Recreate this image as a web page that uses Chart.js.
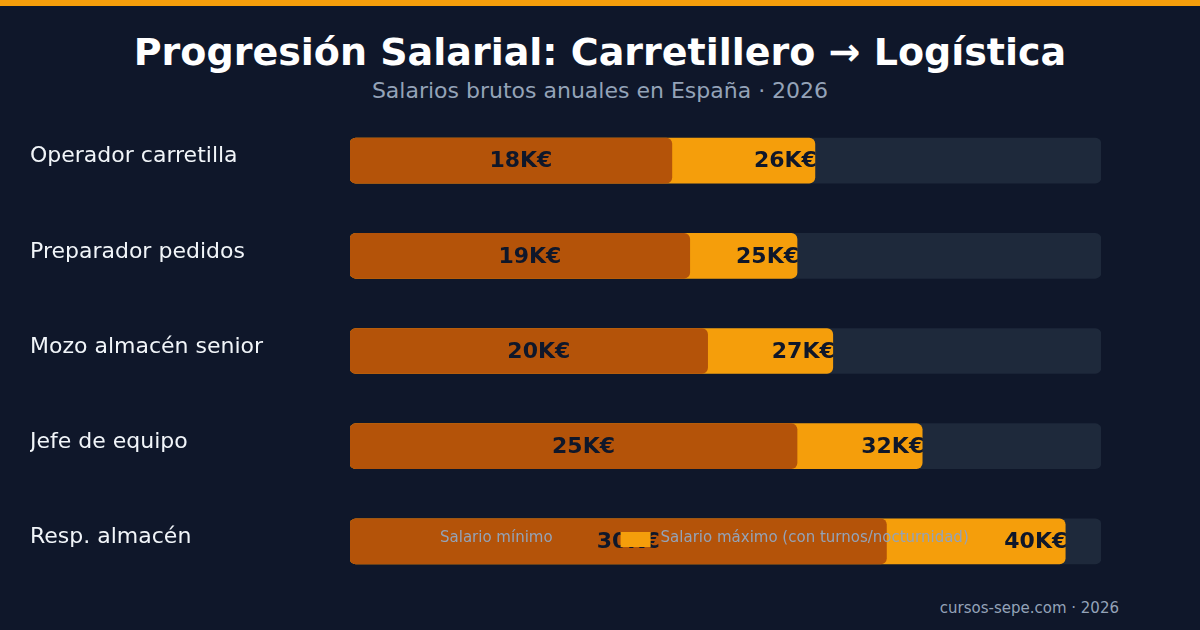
<!DOCTYPE html>
<html lang="es">
<head>
<meta charset="utf-8">
<title>Progresión Salarial</title>
<script src="https://cdn.jsdelivr.net/npm/chart.js@4/dist/chart.umd.min.js"></script>
<style>
  html, body { margin: 0; padding: 0; }
  body {
    width: 1200px; height: 630px; position: relative; overflow: hidden;
    background: #0f172a; font-family: 'DejaVu Sans', sans-serif;
  }
  .franja { position: absolute; left: 0; top: 0; width: 1200px; height: 6px; background: #f59e0b; }
  .titulo {
    position: absolute; left: 0; top: 33px; width: 1200px; text-align: center;
    font-size: 38px; line-height: 38px; font-weight: bold; color: #ffffff;
  }
  .subtitulo {
    position: absolute; left: 0; top: 80px; width: 1200px; text-align: center;
    font-size: 22px; line-height: 22px; color: #94a3b8;
  }
  .pie {
    position: absolute; right: 81px; top: 601px;
    font-size: 15px; line-height: 15px; color: #94a3b8;
  }
  #grafico { position: absolute; left: 0; top: 113px; }
</style>
</head>
<body>
<div class="franja"></div>
<div class="titulo">Progresión Salarial: Carretillero → Logística</div>
<div class="subtitulo">Salarios brutos anuales en España · 2026</div>
<canvas id="grafico" width="1200" height="476"></canvas>
<div class="pie">cursos-sepe.com · 2026</div>

<script>
// datos (miles de euros brutos al año)
const categorias = [
    'Operador carretilla',
    'Preparador pedidos',
    'Mozo almacén senior',
    'Jefe de equipo',
    'Resp. almacén'
]
const salarioMin = [18, 19, 20, 25, 30]
const salarioMax = [26, 25, 27, 32, 40]
const escalaMax = 42

const colorMin = '#b45309'
const colorMax = '#f59e0b'
const colorPista = '#1e293b'

Chart.defaults.font.family = "'DejaVu Sans', sans-serif";

// etiquetas de valor dentro de las barras
const etiquetasValor = {
    id: 'etiquetasValor',
    afterDatasetsDraw(chart) {
        const ctx = chart.ctx;
        ctx.save();
        ctx.font = 'bold 22px "DejaVu Sans"';
        ctx.fillStyle = '#0f172a';
        ctx.textBaseline = 'middle';

        const metaMin = chart.getDatasetMeta(0);
        ctx.textAlign = 'center';
        metaMin.data.forEach((bar, i) => {
            ctx.fillText(salarioMin[i] + 'K€', (bar.base + bar.x) / 2 + 10, bar.y + 1);
        });

        const metaMax = chart.getDatasetMeta(1);
        ctx.textAlign = 'right';
        metaMax.data.forEach((bar, i) => {
            ctx.fillText(salarioMax[i] + 'K€', bar.x + 2, bar.y + 1);
        });
        ctx.restore();
    }
};

// leyenda dibujada encima de las barras
const leyenda = {
    id: 'leyenda',
    afterDraw(chart, args, opts) {
        const ctx = chart.ctx;
        const y = chart.chartArea.bottom - opts.bottom;
        let x = opts.x;
        ctx.save();
        ctx.font = '15px "DejaVu Sans"';
        ctx.textBaseline = 'middle';
        ctx.textAlign = 'left';
        chart.data.datasets.slice(0, 2).forEach((ds) => {
            ctx.fillStyle = ds.backgroundColor;
            ctx.fillRect(x, y - 7, 30, 15);
            ctx.fillStyle = '#94a3b8';
            ctx.fillText(ds.label, x + 40, y - 1);
            x += 40 + ctx.measureText(ds.label).width + opts.gap;
        });
        ctx.restore();
    }
};

const ctx = document.getElementById('grafico').getContext('2d');
new Chart(ctx, {
    type: 'bar',
    data: {
        labels: categorias,
        datasets: [
            {
                label: 'Salario mínimo',
                data: salarioMin,
                backgroundColor: colorMin
            },
            {
                label: 'Salario máximo (con turnos/nocturnidad)',
                data: salarioMax,
                backgroundColor: colorMax
            },
            {
                label: '',
                data: categorias.map(() => escalaMax),
                backgroundColor: colorPista
            }
        ]
    },
    options: {
        indexAxis: 'y',
        responsive: false,
        animation: false,
        layout: { padding: { left: 30, right: 99, top: 0, bottom: 0 } },
        datasets: {
            bar: {
                grouped: false,
                barThickness: 45,
                borderRadius: 6,
                borderSkipped: false
            }
        },
        scales: {
            x: {
                display: false,
                min: 0,
                max: escalaMax
            },
            y: {
                grid: { display: false },
                border: { display: false },
                afterFit(scale) {
                    scale.width = 320;
                    scale.paddingTop = 0;
                    scale.paddingBottom = 0;
                },
                ticks: {
                    crossAlign: 'far',
                    labelOffset: -4,
                    color: '#f1f5f9',
                    font: { size: 22 }
                }
            }
        },
        plugins: {
            legend: { display: false },
            tooltip: { enabled: false },
            leyenda: { x: 400, gap: 68, bottom: 50 }
        }
    },
    plugins: [etiquetasValor, leyenda]
});
</script>
</body>
</html>
